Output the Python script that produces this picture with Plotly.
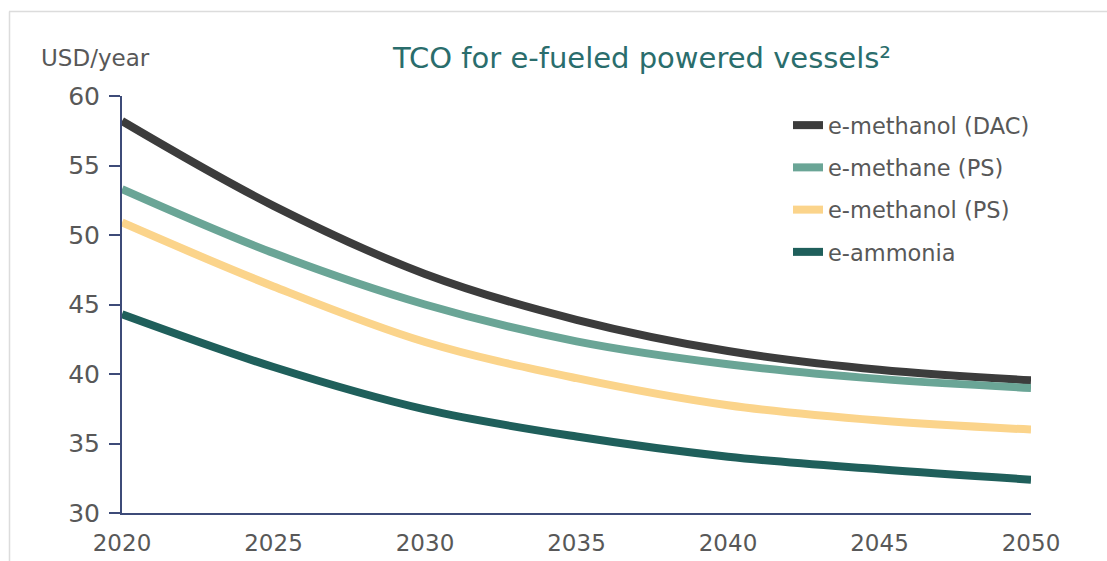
import plotly.graph_objects as go

# -------------------------
# Data
# -------------------------
years = [2020, 2025, 2030, 2035, 2040, 2045, 2050]

methanol_dac = [58.2, 52.1, 47.2, 43.9, 41.65, 40.3, 39.55]
methane_ps = [53.3, 48.7, 45.0, 42.35, 40.7, 39.65, 39.0]
methanol_ps = [50.9, 46.3, 42.3, 39.7, 37.75, 36.65, 36.0]
ammonia = [44.3, 40.5, 37.45, 35.5, 34.05, 33.15, 32.4]

series = [
    ("e-methanol (DAC)", methanol_dac, "#3c3c3c"),
    ("e-methane (PS)", methane_ps, "#6aa596"),
    ("e-methanol (PS)", methanol_ps, "#fbd48b"),
    ("e-ammonia", ammonia, "#1f5f5b"),
]

# -------------------------
# Layout helpers (pixel -> paper)
# -------------------------
W, H = 1107, 561
L, R, T, B = 122, 1031, 96, 513

def px(x):
    return (x - L) / (R - L)

def py(y):
    return (B - y) / (B - T)

FONT = "DejaVu Sans"
TEXT_COL = "#585858"
AXIS_COL = "#3d4b78"

fig = go.Figure()

for i, (name, vals, col) in enumerate(series):
    fig.add_trace(go.Scatter(
        x=years, y=vals,
        name=name,
        mode="lines",
        line=dict(color=col, width=8, shape="spline", smoothing=1.0),
        legendgroup=f"g{i}",
    ))

fig.update_layout(
    width=W, height=H,
    margin=dict(l=L, r=W - R, t=T, b=H - B, autoexpand=False),
    paper_bgcolor="white",
    plot_bgcolor="white",
    font=dict(family=FONT, color=TEXT_COL),
    showlegend=True,
    legend=dict(
        x=px(788), y=py(104), xanchor="left", yanchor="top",
        font=dict(size=22.5, color=TEXT_COL, family=FONT),
        bgcolor="rgba(0,0,0,0)",
        traceorder="grouped",
        tracegroupgap=10,
    ),
    xaxis=dict(
        range=[2020, 2050],
        tickvals=years,
        showgrid=False, zeroline=False,
        showline=True, linecolor=AXIS_COL, linewidth=2,
        ticks="", ticklabelstandoff=8,
        tickfont=dict(size=23, color=TEXT_COL, family=FONT),
    ),
    yaxis=dict(
        range=[30, 60],
        dtick=5,
        showgrid=False, zeroline=False,
        showline=True, linecolor=AXIS_COL, linewidth=2,
        ticks="outside", ticklen=11, tickwidth=2, tickcolor=AXIS_COL,
        ticklabelstandoff=4,
        tickfont=dict(size=25, color=TEXT_COL, family=FONT),
    ),
)

# title and unit label
fig.add_annotation(
    text="TCO for e-fueled powered vessels²",
    xref="paper", yref="paper", x=px(390), y=py(58),
    xanchor="left", yanchor="middle", showarrow=False,
    font=dict(size=29, color="#2a6d6c", family=FONT),
)
fig.add_annotation(
    text="USD/year",
    xref="paper", yref="paper", x=px(39), y=py(58),
    xanchor="left", yanchor="middle", showarrow=False,
    font=dict(size=23, color=TEXT_COL, family=FONT),
)

# thin light frame at top and left of the picture
fig.add_shape(type="line", xref="paper", yref="paper",
              x0=px(9), x1=px(W), y0=py(11.5), y1=py(11.5),
              line=dict(color="#dcdcdc", width=1.5))
fig.add_shape(type="line", xref="paper", yref="paper",
              x0=px(9.5), x1=px(9.5), y0=py(11.5), y1=py(H),
              line=dict(color="#dcdcdc", width=1.5))

# page body has a default 8px margin; remove it so the figure sits at 0,0
fig.write_html(
    "out.html",
    config={"displayModeBar": False},
    post_script="document.body.style.margin='0';",
)
